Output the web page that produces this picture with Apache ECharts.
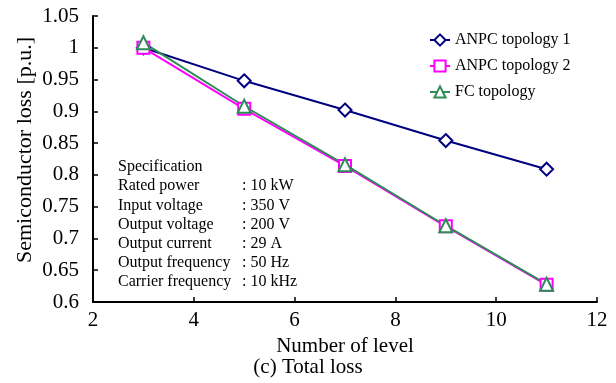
<!DOCTYPE html>
<html><head><meta charset="utf-8">
<script src="https://cdn.jsdelivr.net/npm/echarts@6/dist/echarts.min.js"></script>
<style>html,body{margin:0;padding:0;background:#fff}#c{width:616px;height:383px}</style>
</head><body><div id="c"></div>
<script>
const levels = [3, 5, 7, 9, 11];
const anpc1 = [1.0, 0.948, 0.902, 0.854, 0.809];
const anpc2 = [1.0, 0.904, 0.814, 0.719, 0.627];
const fc = [1.008, 0.908, 0.816, 0.72, 0.628];
const specLabels = ['Specification', 'Rated power', 'Input voltage', 'Output voltage', 'Output current', 'Output frequency', 'Carrier frequency'];
const specValues = ['', ': 10 kW', ': 350 V', ': 200 V', ': 29 A', ': 50 Hz', ': 10 kHz'];
const F = '"Liberation Serif","Times New Roman",serif';
const chart = echarts.init(document.getElementById('c'));
const mk = (name, vals, color, symbol, size) => ({
  name, type: 'line', data: levels.map((x, i) => [x, vals[i]]),
  symbol, symbolSize: size, showAllSymbol: true,
  lineStyle: {color, width: 2}, itemStyle: {color: '#fff', borderColor: color, borderWidth: 2},
  color
});
const graphics = [];
specLabels.forEach((t, i) => {
  graphics.push({type: 'text', left: 118, top: 159 + i * 19.2, style: {text: t, font: '16px ' + F, fill: '#000'}});
  if (specValues[i]) graphics.push({type: 'text', left: 242, top: 159 + i * 19.2, style: {text: specValues[i], font: '16px ' + F, fill: '#000'}});
});
graphics.push({type: 'text', left: 'center', top: 357, style: {text: '(c) Total loss', font: '21px ' + F, fill: '#000'}});
graphics.push({type: 'text', x: 25, y: 150, rotation: Math.PI / 2,
  style: {text: 'Semiconductor loss [p.u.]', font: '22px ' + F, fill: '#000', align: 'center', verticalAlign: 'middle'}});
chart.setOption({
  animation: false,
  textStyle: {fontFamily: F},
  grid: {left: 93, right: 19, top: 16, bottom: 81},
  xAxis: {
    type: 'value', min: 2, max: 12, interval: 2,
    axisLine: {lineStyle: {color: '#000', width: 2}},
    axisTick: {inside: true, length: 5, lineStyle: {color: '#000', width: 1.5}},
    axisLabel: {color: '#000', fontSize: 21, fontFamily: F, margin: 8},
    splitLine: {show: false},
    name: 'Number of level', nameLocation: 'middle', nameGap: 32,
    nameTextStyle: {color: '#000', fontSize: 21, fontFamily: F}
  },
  yAxis: {
    type: 'value', min: 0.6, max: 1.05, interval: 0.05,
    axisLine: {show: true, lineStyle: {color: '#000', width: 2}},
    axisTick: {show: true, inside: true, length: 5, lineStyle: {color: '#000', width: 1.5}},
    axisLabel: {color: '#000', fontSize: 21, fontFamily: F, margin: 14, formatter: v => String(+v.toFixed(2))},
    splitLine: {show: false}
  },
  legend: {
    orient: 'vertical', left: 424, top: 27, itemGap: 10, itemWidth: 20, itemHeight: 14,
    textStyle: {color: '#000', fontSize: 16, fontFamily: F},
    data: ['ANPC topology 1', 'ANPC topology 2', 'FC topology']
  },
  graphic: graphics,
  series: [
    mk('ANPC topology 1', anpc1, '#000080', 'diamond', 13),
    mk('ANPC topology 2', anpc2, '#ff00ff', 'rect', 12),
    mk('FC topology', fc, '#2e8b57', 'triangle', 13)
  ]
});
</script></body></html>
